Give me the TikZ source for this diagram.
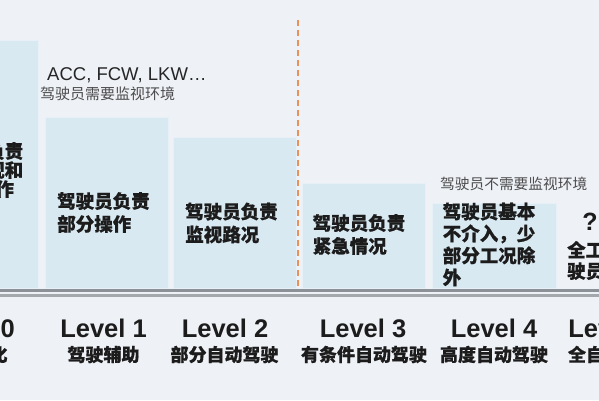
\documentclass[tikz,border=0pt]{standalone}
\usepackage{fontspec}
\setmainfont{Liberation Sans}
\newfontfamily\cjk{Noto Sans CJK SC}[BoldFeatures={FakeBold=0.6}]
\definecolor{bg}{HTML}{EEF1F6}
\definecolor{barc}{HTML}{D9E9F2}
\definecolor{baredge}{HTML}{E6F0F6}
\definecolor{ink}{HTML}{1C1C1C}
\definecolor{orng}{HTML}{E8925A}
\definecolor{axisa}{HTML}{8C9197}
\definecolor{axisb}{HTML}{A3A8AD}
\begin{document}
\begin{tikzpicture}[x=1pt,y=-1pt,
  barbox/.style={fill=barc, draw=baredge, line width=1pt},
  bartext/.style={font=\cjk\bfseries\fontsize{18.5}{23}\selectfont, align=left, text=ink, inner sep=0pt},
  lvl/.style={font=\bfseries\fontsize{25.5}{28}\selectfont, text=ink, inner sep=0pt, anchor=base},
  lvlsub/.style={font=\cjk\bfseries\fontsize{18}{20}\selectfont, text=ink, inner sep=0pt},
  note/.style={font=\cjk\fontsize{15}{17}\selectfont, text=black!70, inner sep=0pt, anchor=west}]
\useasboundingbox (0,0) rectangle (599,400);
\fill[bg] (0,0) rectangle (599,400);
% bars
\path[barbox] (-85,40) rectangle (38,288);
\path[barbox] (45,117) rectangle (168,288);
\path[barbox] (173,137) rectangle (296,288);
\path[barbox] (302,183) rectangle (425,288);
\path[barbox] (432,203) rectangle (556,288);
% bar texts
\node[bartext, align=center, font=\cjk\bfseries\fontsize{18.5}{19}\selectfont] (t0) at (-23,170) {驾驶员负责\\全部监视和\\全部操作};
\node[bartext] (t1) at (103.5,212.5) {驾驶员负责\\部分操作};
\node[bartext] (t2) at (231.5,223) {驾驶员负责\\监视路况};
\node[bartext] (t3) at (359,234.5) {驾驶员负责\\紧急情况};
\node[bartext, font=\cjk\bfseries\fontsize{18.5}{22}\selectfont] (t4) at (489,244.5) {驾驶员基本\\不介入，少\\部分工况除\\外};
\node[font=\bfseries\fontsize{25}{27}\selectfont, text=ink, inner sep=0pt] (q5) at (590,222) {?};
\node[bartext, anchor=west, font=\cjk\bfseries\fontsize{18.5}{21}\selectfont] (t5) at (567,260.5) {全工况无需驾\\驶员};
% notes
\node[font=\fontsize{18.5}{20}\selectfont, text=black!85, inner sep=0pt, anchor=base west] (acc) at (47,80) {ACC, FCW, LKW…};
\node[note] (mon) at (40,93.5) {驾驶员需要监视环境};
\node[note, font=\cjk\fontsize{14.7}{16}\selectfont] (nomon) at (440,184) {驾驶员不需要监视环境};
% dashed divider
\coordinate (dtop) at (298,20);
\coordinate (dbot) at (298,286);
\draw[orng, line width=2.2pt, dash pattern=on 6pt off 4pt] (dtop) -- (dbot);
% axis
\coordinate (axl) at (0,290.3);
\coordinate (axr) at (599,290.3);
\coordinate (bxl) at (0,295.8);
\coordinate (bxr) at (599,295.8);
\draw[axisa, line width=3.5pt] (axl) -- (axr);
\draw[axisb, line width=2.8pt] (bxl) -- (bxr);
% level labels
\node[lvl] (l0) at (-28.5,337) {Level 0};
\node[lvl] (l1) at (103.5,337) {Level 1};
\node[lvl] (l2) at (225,337) {Level 2};
\node[lvl] (l3) at (363,337) {Level 3};
\node[lvl] (l4) at (494,337) {Level 4};
\node[lvl] (l5) at (611.5,337) {Level 5};
\node[lvlsub] (s0) at (-28.5,354.5) {无自动化};
\node[lvlsub] (s1) at (103.5,354.5) {驾驶辅助};
\node[lvlsub] (s2) at (224.5,354.5) {部分自动驾驶};
\node[lvlsub] (s3) at (364,354.5) {有条件自动驾驶};
\node[lvlsub] (s4) at (494,354.5) {高度自动驾驶};
\node[lvlsub] (s5) at (613,354.5) {全自动驾驶};
\end{tikzpicture}
\end{document}
